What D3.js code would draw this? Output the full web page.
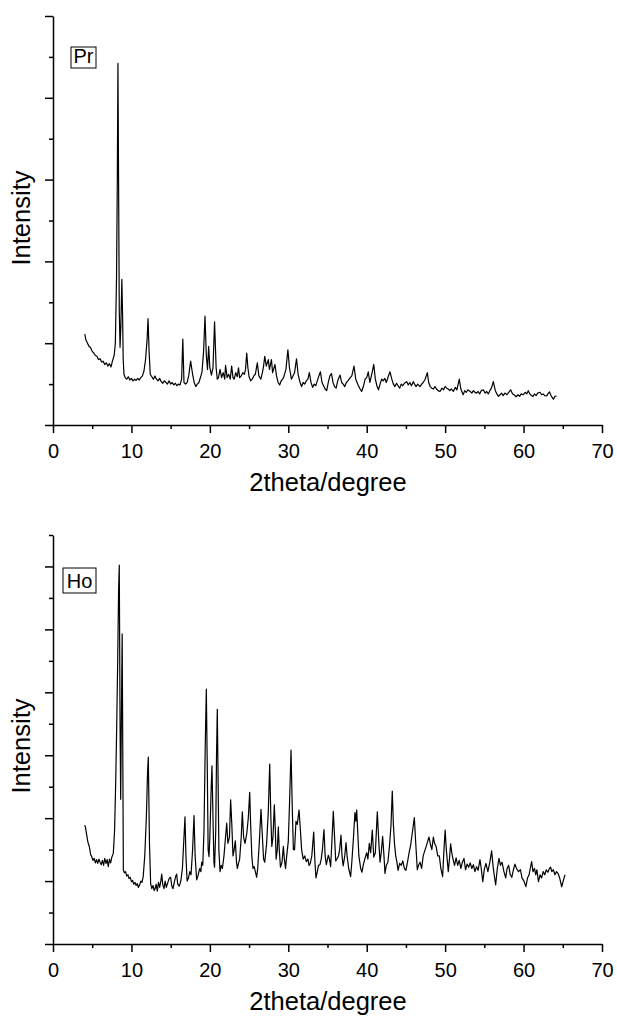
<!DOCTYPE html>
<html>
<head>
<meta charset="utf-8">
<script src="https://cdn.jsdelivr.net/npm/d3@7"></script>
<style>
  body { margin: 0; background: #fff; }
  svg { display: block; }
  text { font-family: "Liberation Sans", Arial, sans-serif; fill: #000; }
</style>
</head>
<body>
<svg id="chart" width="617" height="1019"></svg>
<script>
// x tick values (2theta, degrees)
var xMajor = [0, 10, 20, 30, 40, 50, 60, 70];
var xMinor = [5, 15, 25, 35, 45, 55, 65];

// Pr sample: [2theta, intensity (counts)]
var prPattern = [
  [4.05,1110],[4.2,1040],[4.4,1000],[4.6,960],[4.8,945],[5.0,900],[5.2,880],[5.4,850],[5.6,840],[5.8,800],
  [6.0,810],[6.2,770],[6.4,780],[6.6,740],[6.8,760],[7.0,720],[7.2,750],[7.4,710],[7.6,790],[7.8,850],
  [7.95,1000],[8.1,1800],[8.2,3000],[8.28,4420],[8.36,3000],[8.45,1400],[8.55,950],[8.65,1200],[8.78,1780],[8.88,1300],
  [8.95,800],[9.05,620],[9.2,580],[9.4,560],[9.6,590],[9.8,550],[10.0,570],[10.2,540],[10.4,560],[10.6,545],
  [10.8,570],[11.0,550],[11.2,580],[11.4,600],[11.6,660],[11.8,800],[12.0,1050],[12.12,1300],[12.25,900],[12.4,620],
  [12.6,590],[12.8,560],[13.0,600],[13.2,560],[13.4,540],[13.6,570],[13.8,530],[14.0,510],[14.2,540],[14.4,520],
  [14.6,500],[14.8,540],[15.0,500],[15.2,520],[15.4,490],[15.6,510],[15.8,480],[16.0,500],[16.2,490],[16.4,560],
  [16.55,1050],[16.7,520],[16.9,500],[17.1,520],[17.3,600],[17.55,780],[17.8,620],[18.0,520],[18.2,470],[18.4,500],
  [18.6,520],[18.8,580],[19.0,650],[19.2,900],[19.38,1330],[19.55,850],[19.7,680],[19.85,960],[20.0,700],[20.2,610],
  [20.4,700],[20.6,1260],[20.8,700],[20.95,560],[21.1,580],[21.3,680],[21.5,580],[21.7,640],[21.9,560],[22.0,730],
  [22.2,580],[22.4,620],[22.6,560],[22.78,720],[22.95,580],[23.1,560],[23.3,640],[23.5,590],[23.65,700],[23.8,580],
  [24.0,600],[24.2,640],[24.4,620],[24.55,680],[24.7,880],[24.85,700],[25.0,590],[25.2,540],[25.4,560],[25.6,600],
  [25.8,620],[26.05,760],[26.25,600],[26.5,560],[26.7,640],[26.85,720],[27.0,840],[27.2,720],[27.45,800],[27.6,680],
  [27.85,800],[28.0,640],[28.3,740],[28.5,600],[28.7,520],[28.9,490],[29.1,540],[29.4,580],[29.7,680],[29.95,920],
  [30.15,700],[30.4,560],[30.6,600],[30.8,640],[31.05,810],[31.25,620],[31.5,520],[31.7,470],[31.9,520],[32.1,500],
  [32.3,540],[32.5,560],[32.68,640],[32.9,520],[33.1,460],[33.3,500],[33.5,480],[33.7,540],[33.9,600],[34.1,650],
  [34.3,520],[34.5,480],[34.7,440],[34.9,420],[35.1,520],[35.3,600],[35.5,630],[35.7,520],[35.9,470],[36.1,450],
  [36.3,540],[36.6,610],[36.8,520],[37.0,500],[37.2,470],[37.4,520],[37.6,540],[37.9,580],[38.1,600],[38.38,720],
  [38.6,560],[38.9,490],[39.1,450],[39.35,410],[39.6,480],[39.8,560],[40.0,580],[40.2,650],[40.4,520],[40.6,600],
  [40.9,740],[41.1,560],[41.3,480],[41.5,430],[41.7,500],[41.9,560],[42.1,540],[42.3,570],[42.5,520],[42.7,580],
  [42.97,650],[43.2,560],[43.4,500],[43.6,470],[43.8,510],[44.0,480],[44.2,450],[44.4,500],[44.6,480],[44.8,510],
  [45.1,530],[45.3,490],[45.5,520],[45.7,480],[45.94,530],[46.1,500],[46.3,470],[46.5,500],[46.8,470],[47.0,500],
  [47.2,520],[47.45,560],[47.73,640],[47.9,520],[48.1,470],[48.3,450],[48.5,440],[48.7,470],[48.9,440],[49.1,420],
  [49.34,410],[49.6,450],[49.8,430],[50.0,470],[50.2,450],[50.4,440],[50.6,420],[50.8,440],[51.04,410],[51.3,460],
  [51.5,430],[51.8,560],[52.0,440],[52.3,370],[52.5,420],[52.7,400],[52.9,430],[53.2,410],[53.4,390],[53.6,420],
  [53.8,400],[54.0,390],[54.2,410],[54.4,380],[54.6,420],[54.87,430],[55.1,390],[55.3,410],[55.5,380],[55.7,420],
  [55.9,450],[56.14,530],[56.4,420],[56.6,380],[56.8,350],[57.0,370],[57.2,390],[57.4,360],[57.63,390],[57.9,370],
  [58.1,400],[58.35,430],[58.6,380],[58.8,370],[59.05,345],[59.3,370],[59.5,350],[59.7,380],[59.97,370],[60.2,400],
  [60.4,380],[60.6,420],[60.8,380],[61.0,360],[61.2,350],[61.4,380],[61.6,360],[61.8,390],[62.1,400],[62.3,370],
  [62.5,380],[62.7,360],[62.95,355],[63.1,380],[63.3,405],[63.5,360],[63.8,315],[64.0,350],[64.2,355]
];

// Ho sample: [2theta, intensity (counts)]
var hoPattern = [
  [4.05,1890],[4.15,1850],[4.3,1730],[4.45,1620],[4.63,1550],[4.8,1420],[4.93,1390],[5.1,1330],[5.25,1360],[5.4,1290],
  [5.55,1340],[5.7,1280],[5.85,1350],[6.0,1300],[6.15,1260],[6.3,1330],[6.45,1250],[6.6,1360],[6.75,1280],[6.9,1340],
  [7.05,1230],[7.2,1350],[7.35,1290],[7.5,1380],[7.69,1440],[7.85,1800],[8.0,2600],[8.12,3450],[8.25,4500],[8.36,5600],
  [8.45,6020],[8.55,3500],[8.63,2300],[8.72,3600],[8.82,4930],[8.9,3000],[8.97,1180],[9.1,1130],[9.25,1150],[9.4,1080],
  [9.55,1100],[9.7,1040],[9.85,1060],[10.0,990],[10.15,1010],[10.3,950],[10.45,980],[10.6,930],[10.75,960],[10.88,900],
  [11.05,940],[11.2,1000],[11.35,980],[11.5,1070],[11.7,1400],[11.9,2000],[12.05,2700],[12.15,2970],[12.3,1600],[12.45,960],
  [12.6,880],[12.75,930],[12.9,850],[13.0,870],[13.15,950],[13.3,840],[13.45,980],[13.6,900],[13.75,1000],[13.86,1110],
  [14.0,940],[14.15,880],[14.3,1000],[14.45,900],[14.6,960],[14.8,1040],[15.0,1060],[15.15,920],[15.3,880],[15.5,1000],
  [15.65,1080],[15.77,1110],[15.9,950],[16.1,920],[16.3,1000],[16.5,1200],[16.7,1700],[16.83,2020],[16.95,1400],[17.1,1000],
  [17.25,1040],[17.45,1150],[17.6,1100],[17.8,1500],[17.98,2040],[18.12,1400],[18.32,1020],[18.5,1090],[18.7,1200],[18.85,1150],
  [18.96,1300],[19.1,1250],[19.25,1800],[19.42,3200],[19.55,4050],[19.68,2700],[19.78,1500],[19.89,1390],[20.0,1700],[20.15,2400],
  [20.27,2830],[20.4,2000],[20.52,1300],[20.6,1220],[20.75,1800],[20.85,3000],[20.95,3730],[21.05,2600],[21.15,1500],[21.3,1150],
  [21.45,1250],[21.6,1200],[21.8,1400],[22.0,1700],[22.15,1920],[22.3,1600],[22.5,1700],[22.65,2290],[22.8,1900],[22.95,1400],
  [23.1,1500],[23.25,1640],[23.4,1300],[23.5,1200],[23.65,1280],[23.8,1350],[24.0,1700],[24.14,2100],[24.3,1700],[24.48,1600],
  [24.7,1750],[24.9,2000],[25.08,2410],[25.2,1900],[25.35,1400],[25.5,1200],[25.65,1230],[25.8,1150],[25.97,1060],[26.1,1200],
  [26.3,1600],[26.52,2140],[26.7,1700],[26.85,1350],[27.0,1300],[27.24,1600],[27.45,2100],[27.63,2860],[27.78,2000],[27.9,1550],
  [28.05,1700],[28.22,2210],[28.35,1800],[28.45,1350],[28.6,1500],[28.73,1860],[28.85,1500],[29.0,1220],[29.2,1300],[29.37,1550],
  [29.5,1350],[29.65,1200],[29.8,1400],[30.0,1630],[30.15,2200],[30.35,3080],[30.5,2200],[30.65,1500],[30.8,1500],[30.98,1950],
  [31.15,1900],[31.37,2130],[31.55,1800],[31.7,1500],[31.9,1350],[32.1,1400],[32.3,1310],[32.5,1350],[32.65,1250],[32.8,1280],
  [33.0,1400],[33.24,1780],[33.4,1300],[33.53,1050],[33.7,1150],[33.85,1250],[34.04,1260],[34.2,1350],[34.35,1500],[34.55,1820],
  [34.7,1400],[34.85,1260],[35.1,1410],[35.25,1350],[35.4,1230],[35.55,1600],[35.74,2110],[35.9,1700],[36.05,1320],[36.2,1350],
  [36.4,1400],[36.55,1500],[36.72,1730],[36.85,1400],[37.0,1240],[37.2,1400],[37.36,1610],[37.5,1400],[37.7,1200],[37.95,1070],
  [38.1,1300],[38.29,1650],[38.5,2090],[38.62,1950],[38.72,2130],[38.85,1800],[39.0,1400],[39.23,1200],[39.4,1140],[39.55,1250],
  [39.75,1350],[40.0,1450],[40.15,1350],[40.33,1600],[40.5,1450],[40.71,1810],[40.9,1380],[41.1,1450],[41.35,2100],[41.55,1600],
  [41.7,1300],[41.85,1450],[42.03,1710],[42.2,1400],[42.33,1120],[42.5,1250],[42.7,1300],[42.9,1550],[43.1,1900],[43.26,2430],
  [43.4,1900],[43.55,1580],[43.7,1400],[43.85,1300],[44.0,1170],[44.2,1280],[44.4,1250],[44.6,1320],[44.8,1200],[45.0,1170],
  [45.2,1300],[45.4,1450],[45.6,1570],[45.85,1800],[46.07,2010],[46.25,1600],[46.45,1180],[46.6,1250],[46.8,1300],[47.0,1200],
  [47.2,1400],[47.45,1500],[47.7,1600],[47.94,1700],[48.1,1600],[48.3,1500],[48.5,1700],[48.65,1600],[48.85,1550],[49.05,1400],
  [49.26,1400],[49.45,1200],[49.68,1070],[49.85,1500],[50.0,1810],[50.15,1500],[50.4,1150],[50.55,1350],[50.7,1590],[50.85,1450],
  [51.0,1350],[51.2,1250],[51.4,1370],[51.6,1250],[51.8,1330],[52.0,1200],[52.2,1300],[52.4,1360],[52.6,1180],[52.8,1270],
  [53.0,1220],[53.2,1290],[53.4,1200],[53.6,1260],[53.8,1150],[54.0,1230],[54.2,1170],[54.44,1340],[54.6,1200],[54.8,990],
  [55.0,1190],[55.2,1280],[55.45,1150],[55.7,1300],[55.93,1480],[56.1,1250],[56.25,1100],[56.44,940],[56.65,1200],[56.87,1360],
  [57.05,1250],[57.25,1300],[57.5,1150],[57.72,1050],[57.9,1200],[58.1,1250],[58.3,1100],[58.5,1060],[58.7,1180],[58.9,1270],
  [59.1,1200],[59.35,1150],[59.6,1180],[59.8,1050],[60.05,1000],[60.3,910],[60.5,1050],[60.7,1100],[60.85,1200],[61.03,1310],
  [61.2,1150],[61.4,1200],[61.55,1100],[61.7,1180],[61.9,990],[62.1,1100],[62.3,1050],[62.5,1150],[62.7,1100],[62.9,1180],
  [63.1,1140],[63.3,1200],[63.45,1220],[63.6,1150],[63.8,1180],[64.0,1100],[64.2,1150],[64.4,1120],[64.6,1050],[64.86,910],
  [65.05,1000],[65.28,1100]
];

var svg = d3.select('#chart');

function drawPanel(opts) {
    var x = d3.scaleLinear().domain([0, 70]).range([53, 602]);
    var y = d3.scaleLinear().domain([0, opts.yMax]).range([opts.bottom, opts.top]);

    var g = svg.append('g');

    var yMajorTicks = d3.range(0, opts.yMax + 1, 1000);
    var yMinorTicks = d3.range(500, opts.yMax + 1, 1000);

    // minor ticks first
    g.append('g')
        .attr('transform', 'translate(0,' + opts.bottom + ')')
        .call(d3.axisBottom(x).tickValues(xMinor).tickSize(4).tickFormat(''))
        .call(function(s) { s.select('.domain').remove(); });
    g.append('g')
        .attr('transform', 'translate(53,0)')
        .call(d3.axisLeft(y).tickValues(yMinorTicks).tickSize(4).tickFormat(''))
        .call(function(s) { s.select('.domain').remove(); });

    // major ticks + axis lines
    var xAxis = g.append('g')
        .attr('transform', 'translate(0,' + opts.bottom + ')')
        .call(d3.axisBottom(x).tickValues(xMajor).tickSize(8).tickSizeOuter(0).tickPadding(11));
    xAxis.selectAll('text').style('font-size', '20px').style('font-family', '"Liberation Sans", Arial, sans-serif');

    g.append('g')
        .attr('transform', 'translate(53,0)')
        .call(d3.axisLeft(y).tickValues(yMajorTicks).tickSize(8).tickSizeOuter(0).tickFormat(''));

    g.selectAll('.domain').attr('stroke', '#000').attr('stroke-width', 1.5);
    g.selectAll('.tick line').attr('stroke', '#000').attr('stroke-width', 1.5);

    // pattern line
    var line = d3.line()
        .x(function(d) { return x(d[0]); })
        .y(function(d) { return y(d[1]); });

    g.append('path')
        .datum(opts.data)
        .attr('fill', 'none')
        .attr('stroke', '#000')
        .attr('stroke-width', 1.2)
        .attr('stroke-linejoin', 'round')
        .attr('d', line);

    // sample label box
    g.append('rect')
        .attr('x', opts.boxX)
        .attr('y', opts.boxY)
        .attr('width', opts.boxW)
        .attr('height', opts.boxH)
        .attr('fill', 'none')
        .attr('stroke', '#000')
        .attr('stroke-width', 1);
    g.append('text')
        .attr('x', opts.boxX + opts.boxW / 2)
        .attr('y', opts.boxY + opts.boxH - 5)
        .attr('text-anchor', 'middle')
        .style('font-size', '20px')
        .text(opts.label);

    // axis titles
    g.append('text')
        .attr('x', 328)
        .attr('y', opts.bottom + 66)
        .attr('text-anchor', 'middle')
        .style('font-size', '25.5px')
        .text('2theta/degree');

    g.append('text')
        .attr('transform', 'translate(30,' + opts.yLabelMid + ') rotate(-90)')
        .attr('text-anchor', 'middle')
        .style('font-size', '25.5px')
        .text('Intensity');
}

drawPanel({
    data: prPattern, yMax: 5000, top: 16, bottom: 425,
    label: 'Pr', boxX: 71, boxY: 47, boxW: 25, boxH: 21, yLabelMid: 218
});

drawPanel({
    data: hoPattern, yMax: 6500, top: 535, bottom: 944,
    label: 'Ho', boxX: 63, boxY: 568, boxW: 33, boxH: 25, yLabelMid: 746
});
</script>
</body>
</html>
